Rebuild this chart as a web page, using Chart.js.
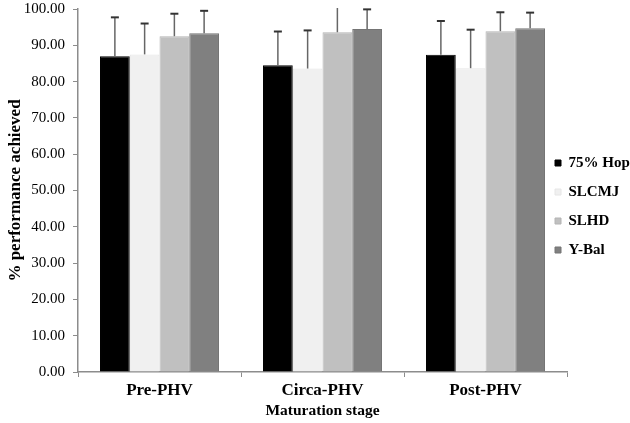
<!DOCTYPE html>
<html>
<head>
<meta charset="utf-8">
<script src="https://cdn.jsdelivr.net/npm/chart.js@4/dist/chart.umd.min.js"></script>
<style>
  html, body { margin: 0; padding: 0; background: #fff; }
  #wrap { width: 630px; height: 423px; }
</style>
</head>
<body>
<div id="wrap"><canvas id="chart" width="630" height="423"></canvas></div>
<script>
// categories and series
const categories = ['Pre-PHV', 'Circa-PHV', 'Post-PHV'];
const seriesNames = ['75% Hop', 'SLCMJ', 'SLHD', 'Y-Bal'];
const hop75 = [87.0, 84.5, 87.4];
const slcmj = [87.5, 83.6, 83.7];
const slhd = [92.5, 93.6, 93.9];
const ybal = [93.3, 94.5, 94.7];
// upper error bar (SD)
const hop75Err = [10.7, 9.3, 9.3];
const slcmjErr = [8.5, 10.5, 10.6];
const slhdErr = [6.2, 8.0, 5.2];
const ybalErr = [6.2, 5.4, 4.3];

const serif = '"Liberation Serif", "Times New Roman", serif';

// Draw the upward error bars on top of each bar
const errorBars = {
  id: 'errorBars',
  afterDatasetsDraw(chart) {
    const ctx = chart.ctx;
    const y = chart.scales.y;
    const area = chart.chartArea;
    ctx.save();
    ctx.beginPath();
    ctx.rect(area.left, area.top - 1, area.right - area.left, area.bottom - area.top + 1);
    ctx.clip();
    chart.data.datasets.forEach((ds, i) => {
      const meta = chart.getDatasetMeta(i);
      meta.data.forEach((bar, j) => {
        const top = y.getPixelForValue(ds.data[j] + ds.err[j]);
        ctx.strokeStyle = '#666';
        ctx.lineWidth = 1.5;
        ctx.beginPath();
        ctx.moveTo(bar.x, bar.y);
        ctx.lineTo(bar.x, top);
        ctx.stroke();
        ctx.strokeStyle = '#333';
        ctx.lineWidth = 2;
        ctx.beginPath();
        ctx.moveTo(bar.x - 4, top);
        ctx.lineTo(bar.x + 4, top);
        ctx.stroke();
      });
    });
    ctx.restore();
  }
};

// legend sits close to the last bar, over the end of the x axis
const legendPlace = {
  id: 'legendPlace',
  afterLayout(chart) {
    const lg = chart.legend;
    lg.left -= 26;
    lg.right = chart.width;
    lg.width = lg.right - lg.left;
    lg.top -= 4;
    lg.bottom -= 4;
  }
};

const ctx = document.getElementById('chart').getContext('2d');
new Chart(ctx, {
  type: 'bar',
  data: {
    labels: categories,
    datasets: [
      { label: seriesNames[0], data: hop75, err: hop75Err, backgroundColor: '#000000', borderColor: '#000000' },
      { label: seriesNames[1], data: slcmj, err: slcmjErr, backgroundColor: '#f0f0f0', borderColor: '#e6e6e6' },
      { label: seriesNames[2], data: slhd, err: slhdErr, backgroundColor: '#c0c0c0', borderColor: '#b4b4b4' },
      { label: seriesNames[3], data: ybal, err: ybalErr, backgroundColor: '#808080', borderColor: '#747474' }
    ].map(d => Object.assign(d, { borderWidth: 1, categoryPercentage: 0.73, barPercentage: 1 }))
  },
  options: {
    responsive: false,
    animation: false,
    layout: { padding: { top: 0, right: 0, bottom: 2, left: 0 } },
    plugins: {
      tooltip: { enabled: false },
      legend: {
        position: 'right',
        maxWidth: 63,
        labels: {
          boxWidth: 6,
          boxHeight: 6,
          padding: 14,
          color: '#000',
          font: { family: serif, size: 15, weight: 'bold' }
        }
      }
    },
    scales: {
      x: {
        afterFit: s => { s.height = 49; },
        grid: { drawOnChartArea: false, drawTicks: true, tickLength: 5, color: '#8c8c8c' },
        border: { display: true, color: '#8c8c8c', width: 1.5 },
        ticks: { color: '#000', padding: 3, font: { family: serif, size: 17, weight: 'bold' } },
        title: { display: true, text: 'Maturation stage', color: '#000', padding: { top: 0, bottom: 1 }, font: { family: serif, size: 15.5, weight: 'bold' } }
      },
      y: {
        min: 0,
        max: 100,
        afterFit: s => { s.width = 78; s.paddingTop = 9; s.paddingBottom = 9; },
        ticks: { stepSize: 10, color: '#000', padding: 8, font: { family: serif, size: 15 }, callback: v => v.toFixed(2) },
        grid: { drawOnChartArea: false, drawTicks: true, tickLength: 5, color: '#8c8c8c' },
        border: { display: true, color: '#8c8c8c', width: 1.5 },
        title: { display: true, text: '% performance achieved', color: '#000', padding: { top: 5, bottom: 0 }, font: { family: serif, size: 17, weight: 'bold' } }
      }
    }
  },
  plugins: [errorBars, legendPlace]
});
</script>
</body>
</html>
